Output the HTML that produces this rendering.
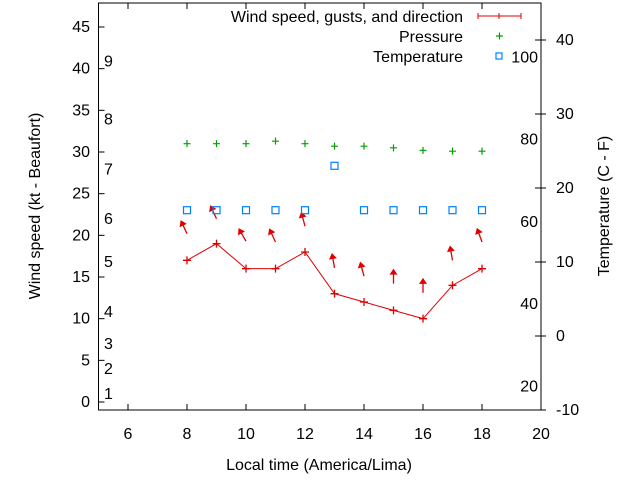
<!DOCTYPE html>
<html><head><meta charset="utf-8"><style>
body{margin:0;background:#fff;}
svg text{font-family:"Liberation Sans",sans-serif;font-size:16px;fill:#000;}
</style></head><body>
<svg id="chart" width="640" height="480" xmlns="http://www.w3.org/2000/svg"></svg>
<script>
const hours=[8,9,10,11,12,13,14,15,16,17,18];
const windKt=[17,19,16,16,18,13,12,11,10,14,16];
const gustKt=[20.2,22,19.3,19.2,21.1,16.1,15.1,14.2,13.1,17,19.2];
const dirTilt=[-25,-25,-30,-25,-15,-10,-15,0,0,-10,-20];
const pressure=[31,31,31,31.3,31,30.7,30.7,30.5,30.2,30.1,30.1];
const tempC=[17,17,17,17,17,23,17,17,17,17,17];
const xTicks=[6,8,10,12,14,16,18,20];
const yTicks=[0,5,10,15,20,25,30,35,40,45];
const y2Ticks=[-10,0,10,20,30,40];
const beaufortLabels=["1","2","3","4","5","6","7","8","9"];
const beaufortKt=[1.1,4.1,7.1,10.9,16.9,22.1,28,34,41];
const fLabels=["20","40","60","80","100"];
const fVals=[20,40,60,80,100];

const L=98.5,R=541,T=3,B=410;
const X=v=>L+(v-5)*(R-L)/15;
const Y=v=>402-v*(375/45);
const Y2=v=>336-v*7.4;
const svg=document.getElementById('chart');
const NS="http://www.w3.org/2000/svg";
function el(tag,attrs,parent){const e=document.createElementNS(NS,tag);for(const k in attrs)e.setAttribute(k,attrs[k]);(parent||svg).appendChild(e);return e;}
function txt(s,x,y,anchor,name){const t=el('text',{x:x,y:y,'text-anchor':anchor||'start'});t.textContent=s;return t;}

const frame=el('rect',{x:L,y:T,width:R-L,height:B-T,fill:'none',stroke:'#000','stroke-width':1});


xTicks.forEach(v=>{const x=X(v);
 el('line',{x1:x,y1:B,x2:x,y2:B-6,stroke:'#000'});el('line',{x1:x,y1:T,x2:x,y2:T+6,stroke:'#000'});
 txt(String(v),x,439,'middle','x-tick-label');});
yTicks.forEach(v=>{const y=Y(v);el('line',{x1:L,y1:y,x2:L+6,y2:y,stroke:'#000'});txt(String(v),90,y+5,'end','y-tick-label');});
y2Ticks.forEach(v=>{const y=Y2(v);el('line',{x1:R,y1:y,x2:R-6,y2:y,stroke:'#000'});el('line',{x1:R,y1:y,x2:R+5,y2:y,stroke:'#000'});txt(String(v),556,y+5,'start','y2-tick-label');});
beaufortLabels.forEach((s,i)=>txt(s,104,Y(beaufortKt[i])+6,'start','beaufort-label'));
fLabels.forEach((s,i)=>txt(s,538,Y2((fVals[i]-32)*5/9)+6,'end','fahrenheit-label'));
txt('Local time (America/Lima)',319,470,'middle','x-axis-title');
let t1=txt('Wind speed (kt - Beaufort)',0,0,'middle','y-axis-title');t1.setAttribute('transform','translate(40,206) rotate(-90)');
let t2=txt('Temperature (C - F)',0,0,'middle','y2-axis-title');t2.setAttribute('transform','translate(609,206) rotate(-90)');

const pts=hours.map((h,i)=>X(h)+','+Y(windKt[i])).join(' ');
const wl=el('polyline',{points:pts,fill:'none',stroke:'#e00000','stroke-width':1});


hours.forEach((h,i)=>{const x=X(h),y=Y(windKt[i]);
 const p=el('path',{d:`M${x-4},${y}H${x+4}M${x},${y-4}V${y+4}`,stroke:'#e00000','stroke-width':1.3});
 
 
 const a=dirTilt[i]*Math.PI/180,x0=X(h),y0=Y(gustKt[i]);
 const len=13,hx=x0+Math.sin(a)*len,hy=y0-Math.cos(a)*len;
 const g=el('g',{});
 
 
 el('line',{x1:x0,y1:y0,x2:hx,y2:hy,stroke:'#e00000','stroke-width':1.3},g);
 const ux=Math.sin(a),uy=-Math.cos(a),px=-uy,py=ux;
 el('polygon',{points:`${hx+ux*2},${hy+uy*2} ${hx-ux*4+px*4},${hy-uy*4+py*4} ${hx-ux*4-px*4},${hy-uy*4-py*4}`,fill:'#e00000'},g);
});
pressure.forEach((v,i)=>{const x=X(hours[i]),y=Y(v);
 const p=el('path',{d:`M${x-3.5},${y}H${x+3.5}M${x},${y-3.5}V${y+3.5}`,stroke:'#00a000','stroke-width':1.2});
 
 });
tempC.forEach((v,i)=>{const x=X(hours[i]),y=Y2(v);
 const r=el('rect',{x:x-3.5,y:y-3.5,width:7,height:7,fill:'none',stroke:'#0080ff','stroke-width':1.2});
 
 });
txt('Wind speed, gusts, and direction',463,22,'end','legend-wind-label');
el('path',{d:'M478,16H521M478,13V19M521,13V19M499,13V19',stroke:'#e00000','stroke-width':1});
txt('Pressure',463,42,'end','legend-pressure-label');
el('path',{d:'M496,36H503M499.5,32.5V39.5',stroke:'#00a000','stroke-width':1.2});
txt('Temperature',463,62,'end','legend-temperature-label');
el('rect',{x:496,y:53,width:6,height:6,fill:'none',stroke:'#0080ff','stroke-width':1.2});
</script>
</body></html>
